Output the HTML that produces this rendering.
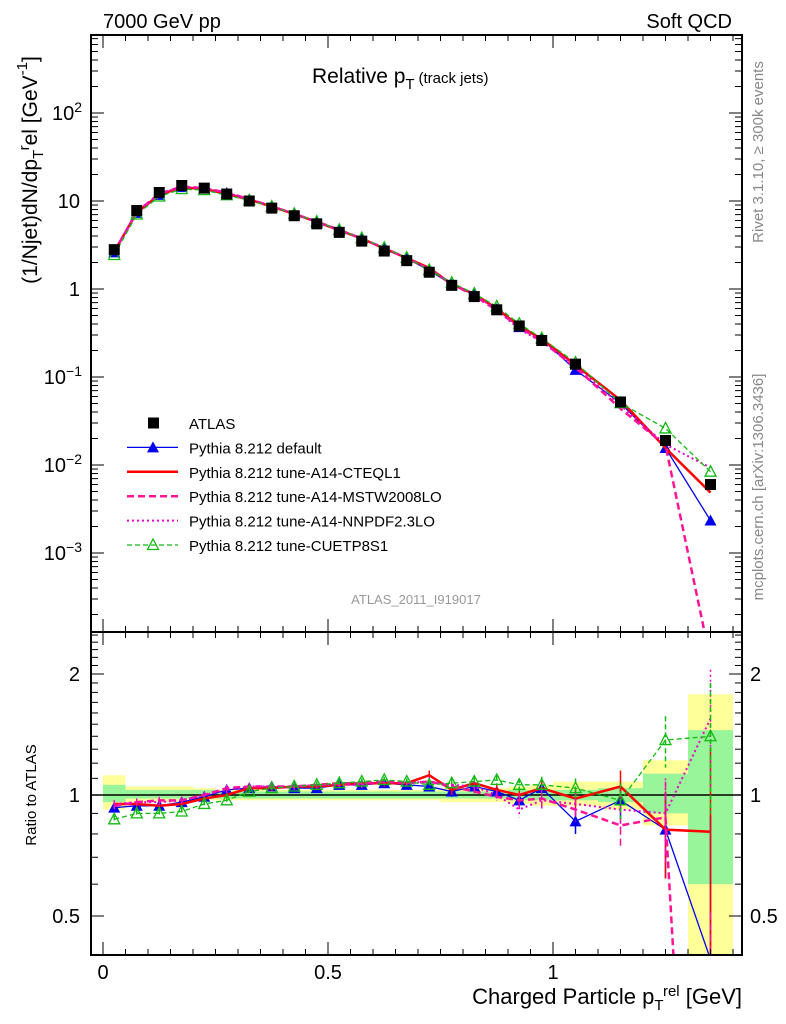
<!DOCTYPE html>
<html><head><meta charset="utf-8"><style>
html,body{margin:0;background:#fff;overflow:hidden;width:786px;height:1024px}
svg{display:block;font-family:"Liberation Sans",sans-serif;overflow:hidden}
</style></head><body>
<svg id="c" width="786" height="1024" xmlns="http://www.w3.org/2000/svg"></svg>
<script>
const xs=[0.025,0.075,0.125,0.175,0.225,0.275,0.325,0.375,0.425,0.475,0.525,0.575,0.625,0.675,0.725,0.775,0.825,0.875,0.925,0.975,1.05,1.15,1.25,1.35];
const xlo=[0,0.05,0.1,0.15,0.2,0.25,0.3,0.35,0.4,0.45,0.5,0.55,0.6,0.65,0.7,0.75,0.8,0.85,0.9,0.95,1.0,1.1,1.2,1.3];
const xhi=[0.05,0.1,0.15,0.2,0.25,0.3,0.35,0.4,0.45,0.5,0.55,0.6,0.65,0.7,0.75,0.8,0.85,0.9,0.95,1.0,1.1,1.2,1.3,1.4];
const atlas=[2.8,7.8,12.5,15,14,12,10,8.3,6.8,5.5,4.4,3.5,2.7,2.1,1.55,1.1,0.82,0.58,0.38,0.26,0.14,0.052,0.019,0.006];
const bandYhi=[0.12,0.05,0.05,0.05,0.04,0.03,0.03,0.03,0.03,0.03,0.03,0.03,0.03,0.03,0.03,0.04,0.04,0.04,0.05,0.06,0.08,0.08,0.22,0.78];
const bandYlo=[0.08,0.04,0.04,0.04,0.03,0.03,0.03,0.03,0.03,0.03,0.03,0.03,0.03,0.03,0.03,0.04,0.04,0.04,0.05,0.06,0.06,0.08,0.16,0.6];
const bandGhi=[0.06,0.03,0.03,0.03,0.03,0.02,0.02,0.02,0.02,0.02,0.02,0.02,0.02,0.02,0.02,0.02,0.02,0.02,0.03,0.03,0.03,0.04,0.13,0.45];
const bandGlo=[0.04,0.02,0.02,0.02,0.02,0.02,0.02,0.02,0.02,0.02,0.02,0.02,0.02,0.02,0.02,0.02,0.02,0.02,0.03,0.03,0.03,0.04,0.1,0.4];
const rDefault=[0.93,0.94,0.94,0.96,0.99,1.03,1.04,1.05,1.04,1.04,1.06,1.06,1.07,1.06,1.05,1.02,1.05,1.02,0.97,1.04,0.86,0.97,0.82,0.39];
const rCTEQ=[0.95,0.95,0.94,0.95,0.98,1.0,1.04,1.04,1.05,1.05,1.06,1.07,1.07,1.07,1.12,1.03,1.07,1.03,1.0,1.04,0.98,1.05,0.82,0.81];
const rMSTW=[0.94,0.96,0.97,0.97,1.0,1.04,1.05,1.05,1.05,1.06,1.07,1.07,1.08,1.07,1.08,1.05,1.02,0.99,0.97,0.98,0.92,0.84,0.88,0.01];
const rNNPDF=[0.95,0.96,0.96,0.97,1.0,1.03,1.05,1.05,1.05,1.06,1.06,1.06,1.08,1.07,1.08,1.06,1.05,1.0,0.92,0.97,0.95,0.92,0.9,1.55];
const rCUETP=[0.87,0.9,0.9,0.91,0.95,0.97,1.02,1.04,1.05,1.06,1.07,1.08,1.09,1.08,1.06,1.07,1.08,1.09,1.06,1.06,1.04,0.97,1.37,1.4];
const rErr=[0.02,0.02,0.02,0.02,0.02,0.02,0.02,0.02,0.02,0.02,0.02,0.02,0.02,0.02,0.03,0.03,0.03,0.03,0.04,0.05,0.06,0.1,0.2,0.5];

const S=document.getElementById('c');const NS='http://www.w3.org/2000/svg';
function el(t,a,p){const e=document.createElementNS(NS,t);for(const k in a)e.setAttribute(k,a[k]);(p||S).appendChild(e);return e;}
const L=91,R=742,T=35,M=632,B=955;
const X=x=>103+450*x;
const Y=v=>289-88*Math.log10(v);
const YR=r=>795-121*Math.log2(r);

const defs=el('defs',{});
const c1=el('clipPath',{id:'cm'},defs);el('rect',{x:L,y:T,width:R-L,height:M-T},c1);
const c2=el('clipPath',{id:'cr'},defs);el('rect',{x:L,y:M,width:R-L,height:B-M},c2);

const gb=el('g',{'clip-path':'url(#cr)'});

xs.forEach((x,i)=>{
 let r=el('rect',{x:X(xlo[i]),width:X(xhi[i])-X(xlo[i]),y:YR(1+bandYhi[i]),height:YR(1-bandYlo[i])-YR(1+bandYhi[i]),fill:'#ffff99'},gb);
 
 let g=el('rect',{x:X(xlo[i]),width:X(xhi[i])-X(xlo[i]),y:YR(1+bandGhi[i]),height:YR(1-bandGlo[i])-YR(1+bandGhi[i]),fill:'#99f599'},gb);
 
});
el('line',{x1:L,x2:R,y1:YR(1),y2:YR(1),stroke:'#000','stroke-width':1.5});

const series=[
 {n:'pythia-default',r:rDefault,c:'#0000ee',w:1.3,d:'',m:'tri'},
 {n:'pythia-a14-cteql1',r:rCTEQ,c:'#ff0000',w:2.5,d:'',m:'none'},
 {n:'pythia-a14-mstw2008lo',r:rMSTW,c:'#ff1493',w:2.5,d:'7,4',m:'none'},
 {n:'pythia-a14-nnpdf23lo',r:rNNPDF,c:'#ee00cc',w:2,d:'2,3',m:'none'},
 {n:'pythia-cuetp8s1',r:rCUETP,c:'#11bb11',w:1.3,d:'5,3',m:'otri'}
];
function marker(g,m,x,y,c){
 if(m==='tri'){let p=el('polygon',{points:`${x},${y-6} ${x-6},${y+5} ${x+6},${y+5}`,fill:c},g);}
 if(m==='otri'){let p=el('polygon',{points:`${x},${y-6} ${x-5.5},${y+4.5} ${x+5.5},${y+4.5}`,fill:'none',stroke:c,'stroke-width':1.3},g);}
}
series.forEach(s=>{
 const gm=el('g',{'clip-path':'url(#cm)'});
 
 const vals=xs.map((x,i)=>atlas[i]*s.r[i]);
 el('polyline',{points:xs.map((x,i)=>X(x)+','+Y(vals[i])).join(' '),fill:'none',stroke:s.c,'stroke-width':s.w,'stroke-dasharray':s.d},gm);
 xs.forEach((x,i)=>marker(gm,s.m,X(x),Y(vals[i]),s.c));
 const gr=el('g',{'clip-path':'url(#cr)'});
 
 el('polyline',{points:xs.map((x,i)=>X(x)+','+YR(s.r[i])).join(' '),fill:'none',stroke:s.c,'stroke-width':s.w,'stroke-dasharray':s.d},gr);
 xs.forEach((x,i)=>{
  const e=rErr[i];
  el('line',{x1:X(x),x2:X(x),y1:YR(s.r[i]+e),y2:YR(Math.max(0.05,s.r[i]-e)),stroke:s.c,'stroke-width':1.5,'stroke-dasharray':s.d},gr);
  marker(gr,s.m,X(x),YR(s.r[i]),s.c);
 });
});
const ga=el('g',{});
xs.forEach((x,i)=>{let r=el('rect',{x:X(x)-5.5,y:Y(atlas[i])-5.5,width:11,height:11,fill:'#000'},ga);});

el('rect',{x:L,y:T,width:R-L,height:M-T,fill:'none',stroke:'#000','stroke-width':2});
el('rect',{x:L,y:M,width:R-L,height:B-M,fill:'none',stroke:'#000','stroke-width':2});
for(let d=-4;d<=2;d++)for(let k=1;k<10;k++){
 const v=k*Math.pow(10,d);const y=Y(v);if(y<T||y>M)continue;const len=k===1?13:7;
 el('line',{x1:L,x2:L+len,y1:y,y2:y,stroke:'#000'});el('line',{x1:R,x2:R-len,y1:y,y2:y,stroke:'#000'});
}
for(let r=0.4;r<=2.55;r+=0.1){const y=YR(r);if(y<M||y>B)continue;const maj=Math.abs(r-0.5)<.01||Math.abs(r-1)<.01||Math.abs(r-2)<.01;const len=maj?13:7;
 el('line',{x1:L,x2:L+len,y1:y,y2:y,stroke:'#000'});el('line',{x1:R,x2:R-len,y1:y,y2:y,stroke:'#000'});}
for(let i=0;i<=28;i++){const x=i*0.05;const px=X(x);if(px>R)continue;const len=i%10===0?13:6;
 [T,M].forEach(y0=>el('line',{x1:px,x2:px,y1:y0,y2:y0+len,stroke:'#000'}));
 [M,B].forEach(y0=>el('line',{x1:px,x2:px,y1:y0,y2:y0-len,stroke:'#000'}));}

function txt(s,a,name){const t=el('text',a);t.innerHTML=s;return t;}
const yl=[[2,'10<tspan dy="-8" font-size="14">2</tspan>'],[1,'10'],[0,'1'],[-1,'10<tspan dy="-8" font-size="14">−1</tspan>'],[-2,'10<tspan dy="-8" font-size="14">−2</tspan>'],[-3,'10<tspan dy="-8" font-size="14">−3</tspan>']];
yl.forEach(([d,s])=>txt(s,{x:d>=0&&d<2?80:82,y:Y(Math.pow(10,d))+7,'font-size':20,'text-anchor':'end'},'y-tick-label'));
[[2,'2'],[1,'1'],[0.5,'0.5']].forEach(([r,s])=>{txt(s,{x:80,y:YR(r)+7,'font-size':20,'text-anchor':'end'},'ratio-tick-label');txt(s,{x:750,y:YR(r)+7,'font-size':20},'ratio-tick-label-right');});
[[0,'0'],[0.5,'0.5'],[1,'1']].forEach(([x,s])=>txt(s,{x:X(x),y:979,'font-size':20,'text-anchor':'middle'},'x-tick-label'));

txt('Charged Particle p<tspan dy="6" font-size="15">T</tspan><tspan dy="-14" font-size="15">rel</tspan><tspan dy="8"> [GeV]</tspan>',{x:742,y:1004,'font-size':22,'text-anchor':'end'},'x-axis-title');
txt('(1/Njet)dN/dp<tspan dy="6" font-size="15">T</tspan><tspan dy="-14" font-size="15">r</tspan><tspan dy="8">el [GeV</tspan><tspan dy="-10" font-size="15">-1</tspan><tspan dy="10">]</tspan>',{x:0,y:0,'font-size':21,'text-anchor':'middle',transform:'translate(37,170) rotate(-90)'},'y-axis-title');
txt('Ratio to ATLAS',{x:0,y:0,'font-size':15,'text-anchor':'middle',transform:'translate(36,795) rotate(-90)'},'ratio-axis-title');
txt('7000 GeV pp',{x:103,y:28,'font-size':20},'beam-label');
txt('Soft QCD',{x:732,y:28,'font-size':20,'text-anchor':'end'},'process-label');
txt('Relative p<tspan dy="6" font-size="15">T</tspan><tspan dy="-6" font-size="15"> (track jets)</tspan>',{x:312,y:83,'font-size':21},'plot-title');
txt('ATLAS_2011_I919017',{x:416,y:604,'font-size':13,fill:'#999','text-anchor':'middle'},'analysis-id');
txt('Rivet 3.1.10, ≥ 300k events',{x:0,y:0,'font-size':15,fill:'#888','text-anchor':'middle',transform:'translate(763,152) rotate(-90)'},'rivet-label');
txt('mcplots.cern.ch [arXiv:1306.3436]',{x:0,y:0,'font-size':15,fill:'#888','text-anchor':'middle',transform:'translate(763,487) rotate(-90)'},'mcplots-label');

const leg=[['ATLAS','#000','','sq',2],['Pythia 8.212 default','#0000ee','','tri',1.3],['Pythia 8.212 tune-A14-CTEQL1','#ff0000','','none',2.5],['Pythia 8.212 tune-A14-MSTW2008LO','#ff1493','7,4','none',2.5],['Pythia 8.212 tune-A14-NNPDF2.3LO','#ee00cc','2,3','none',2],['Pythia 8.212 tune-CUETP8S1','#11bb11','5,3','otri',1.3]];
leg.forEach(([t,c,d,m,w],i)=>{
 const y=423+i*24.4;const g=el('g',{});
 if(m==='sq')el('rect',{x:148,y:y-5.5,width:11,height:11,fill:'#000'},g);
 else{el('line',{x1:127,x2:178,y1:y,y2:y,stroke:c,'stroke-width':w,'stroke-dasharray':d},g);marker(g,m,153,y,c);}
 const tt=el('text',{x:189,y:y+6,'font-size':15},g);tt.textContent=t;
});
</script>
</body></html>
